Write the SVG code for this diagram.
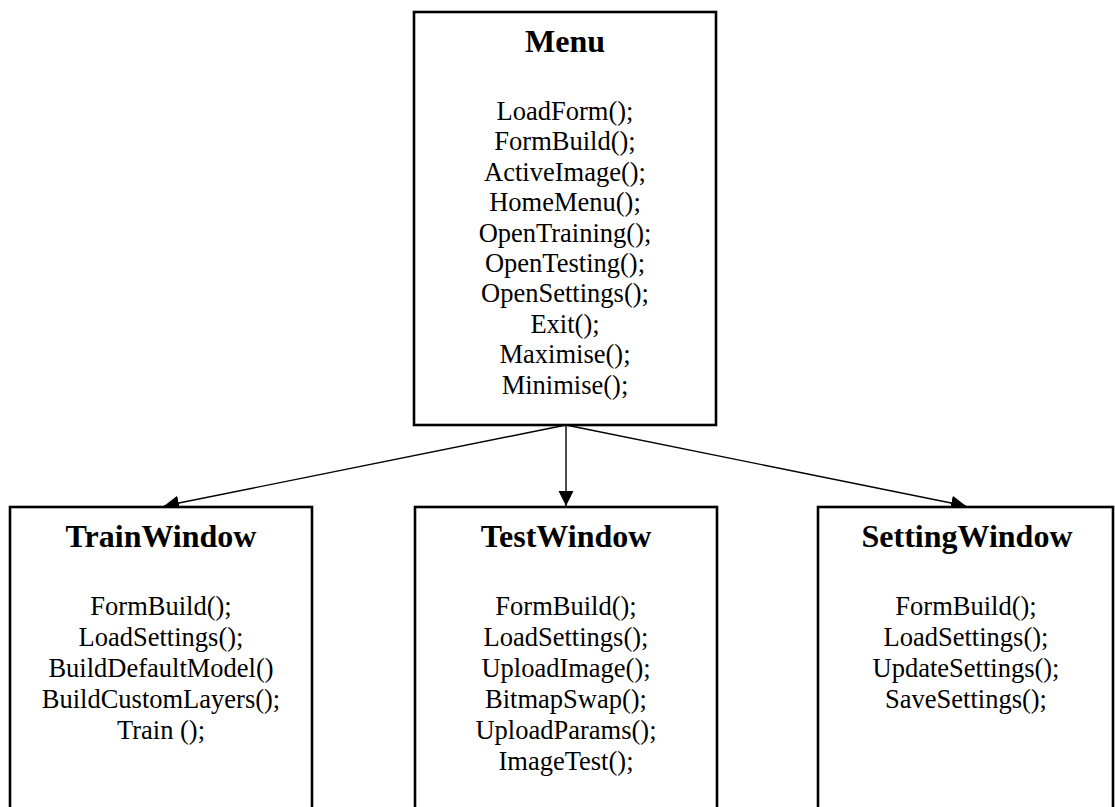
<svg xmlns="http://www.w3.org/2000/svg" width="1115" height="807" viewBox="0 0 1115 807">
  <style>
    .box { fill: #ffffff; stroke: #000000; stroke-width: 2.6; }
    .title { font-family: "Liberation Serif", "Times New Roman", serif; font-size: 32px; font-weight: bold; fill: #000000; text-anchor: middle; }
    .method { font-family: "Liberation Serif", "Times New Roman", serif; font-size: 26.5px; fill: #000000; text-anchor: middle; }
    .link { fill: none; stroke: #000000; stroke-width: 1.4; marker-end: url(#arrow); }
  </style>
  <defs>
    <marker id="arrow" markerUnits="userSpaceOnUse" markerWidth="16" markerHeight="16" viewBox="0 0 16 16" refX="15" refY="8" orient="auto">
      <path d="M0,0.5 L15,8 L0,15.5 Z" fill="#000000"/>
    </marker>
  </defs>
  <rect width="1115" height="807" fill="#ffffff"/>

  <!-- connectors from the menu to each window -->
  <g id="connectors">
    <line class="link" x1="566" y1="425" x2="164" y2="506"/>
    <line class="link" x1="566" y1="425" x2="566" y2="506"/>
    <line class="link" x1="566" y1="425" x2="966" y2="506"/>
  </g>

  <g id="menu">
    <rect class="box" x="414" y="12" width="302" height="413"/>
    <text class="title" x="565" y="52">Menu</text>
    <text class="method" x="565" y="120">LoadForm();</text>
    <text class="method" x="565" y="150.4">FormBuild();</text>
    <text class="method" x="565" y="180.8">ActiveImage();</text>
    <text class="method" x="565" y="211.2">HomeMenu();</text>
    <text class="method" x="565" y="241.6">OpenTraining();</text>
    <text class="method" x="565" y="272">OpenTesting();</text>
    <text class="method" x="565" y="302.4">OpenSettings();</text>
    <text class="method" x="565" y="332.8">Exit();</text>
    <text class="method" x="565" y="363.2">Maximise();</text>
    <text class="method" x="565" y="393.6">Minimise();</text>
  </g>

  <g id="train-window">
    <rect class="box" x="10" y="507" width="302" height="320"/>
    <text class="title" x="161" y="547">TrainWindow</text>
    <text class="method" x="161" y="615">FormBuild();</text>
    <text class="method" x="161" y="646">LoadSettings();</text>
    <text class="method" x="161" y="677">BuildDefaultModel()</text>
    <text class="method" x="161" y="708">BuildCustomLayers();</text>
    <text class="method" x="161" y="739">Train ();</text>
  </g>

  <g id="test-window">
    <rect class="box" x="415" y="507" width="302" height="320"/>
    <text class="title" x="566" y="547">TestWindow</text>
    <text class="method" x="566" y="615">FormBuild();</text>
    <text class="method" x="566" y="646">LoadSettings();</text>
    <text class="method" x="566" y="677">UploadImage();</text>
    <text class="method" x="566" y="708">BitmapSwap();</text>
    <text class="method" x="566" y="739">UploadParams();</text>
    <text class="method" x="566" y="770">ImageTest();</text>
  </g>

  <g id="setting-window">
    <rect class="box" x="818" y="507" width="295" height="320"/>
    <text class="title" x="967" y="547">SettingWindow</text>
    <text class="method" x="966" y="615">FormBuild();</text>
    <text class="method" x="966" y="646">LoadSettings();</text>
    <text class="method" x="966" y="677">UpdateSettings();</text>
    <text class="method" x="966" y="708">SaveSettings();</text>
  </g>
</svg>
